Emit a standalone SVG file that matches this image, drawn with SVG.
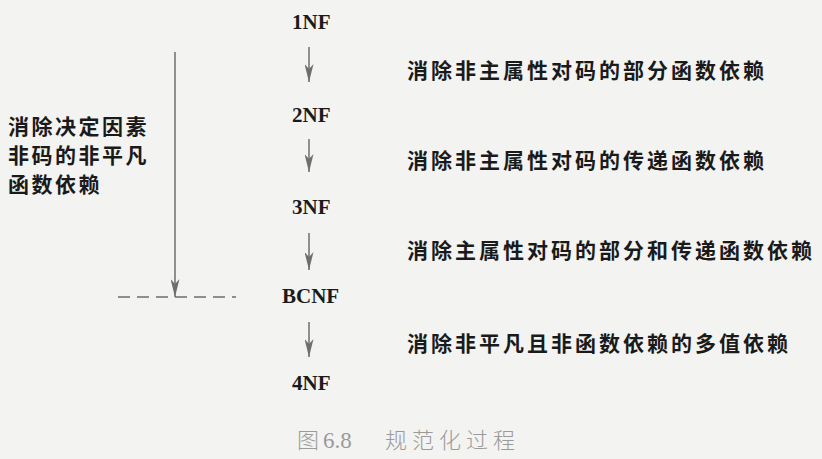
<svg xmlns="http://www.w3.org/2000/svg" width="822" height="459" viewBox="0 0 822 459">
<defs>
<style>
.nf{font-family:"Liberation Serif","Times New Roman",serif;font-size:21px;font-weight:bold;fill:#1a1a1a}
.lab{font-family:"Noto Sans CJK SC",sans-serif;font-size:21px;font-weight:bold;fill:#1a1a1a;letter-spacing:3px}
.cap{font-family:"Liberation Serif","Noto Sans CJK SC",serif;font-size:23px;fill:#9a9a9a}
.cap2{font-family:"Noto Sans CJK SC",sans-serif;font-size:22px;font-weight:300;fill:#9a9a9a}
.ln{stroke:#6e6e6e;stroke-width:1.5;fill:none}
</style>
<marker id="ad" markerWidth="18" markerHeight="9" refX="18" refY="4.5" orient="auto" markerUnits="userSpaceOnUse" viewBox="0 0 18 9">
<path d="M0,0 L18,4.5 L0,9 L5,4.5 Z" fill="#6e6e6e"/>
</marker>
</defs>
<rect width="822" height="459" fill="#f3f3f1"/>
<g id="n1"><text class="nf" x="292" y="29">1NF</text></g>
<g id="n2"><text class="nf" x="292" y="122">2NF</text></g>
<g id="n3"><text class="nf" x="292" y="214">3NF</text></g>
<g id="n4"><text class="nf" x="282" y="303">BCNF</text></g>
<g id="n5"><text class="nf" x="292" y="390">4NF</text></g>
<g id="l1"><text class="lab" x="407" y="78">消除非主属性对码的部分函数依赖</text></g>
<g id="l2"><text class="lab" x="407" y="168">消除非主属性对码的传递函数依赖</text></g>
<g id="l3"><text class="lab" x="407" y="258">消除主属性对码的部分和传递函数依赖</text></g>
<g id="l4"><text class="lab" x="407" y="351">消除非平凡且非函数依赖的多值依赖</text></g>
<g id="left">
<text class="lab" x="8" y="134" style="letter-spacing:2.5px">消除决定因素</text>
<text class="lab" x="8" y="163" style="letter-spacing:2.5px">非码的非平凡</text>
<text class="lab" x="8" y="192" style="letter-spacing:2.5px">函数依赖</text>
</g>
<g id="connectors">
<line class="ln" x1="309" y1="47" x2="309" y2="82" marker-end="url(#ad)"/>
<line class="ln" x1="309" y1="139" x2="309" y2="172" marker-end="url(#ad)"/>
<line class="ln" x1="309" y1="233" x2="309" y2="270" marker-end="url(#ad)"/>
<line class="ln" x1="309" y1="322" x2="309" y2="357" marker-end="url(#ad)"/>
<line class="ln" x1="175" y1="52" x2="175" y2="297" marker-end="url(#ad)"/>
<line class="ln" x1="118" y1="297" x2="236" y2="297" stroke-dasharray="12 7"/>
</g>
<g id="caption">
<text class="cap2" x="297" y="448">图</text>
<text class="cap" x="323" y="448">6.8</text>
<text class="cap2" x="385" y="448" style="letter-spacing:5px">规范化过程</text>
</g>
</svg>
